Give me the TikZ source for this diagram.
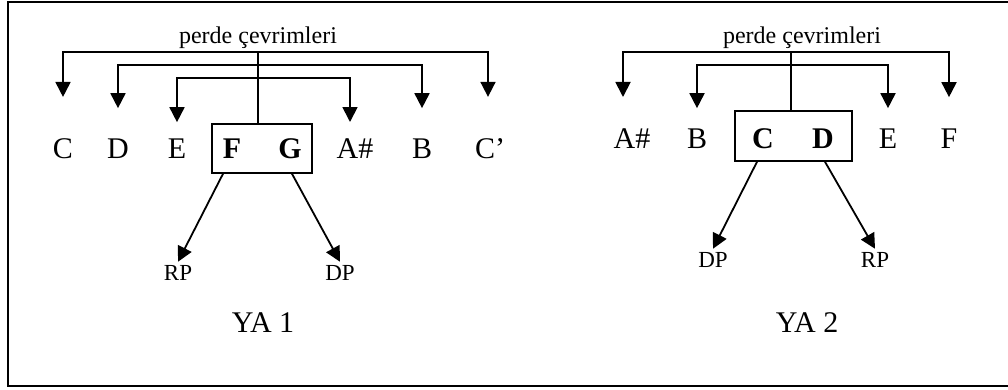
\documentclass[tikz,border=0pt]{standalone}
\usepackage{fontspec}
\setmainfont{Liberation Serif}
\usetikzlibrary{arrows.meta}

\tikzset{
  perde/.style={anchor=base, inner sep=0pt, font=\fontsize{30}{32}\selectfont},
  etiket/.style={anchor=base, inner sep=3pt, font=\fontsize{23}{25}\selectfont},
  baslik/.style={anchor=base, inner sep=0pt, font=\fontsize{24}{26}\selectfont},
  kutu/.style={draw, line width=1.6pt, minimum height=49pt, inner sep=0pt},
  ok/.style={line width=1.8pt, -{Triangle[width=15pt,length=15pt]}},
  cizgi/.style={line width=1.8pt}
}

\begin{document}
\begin{tikzpicture}[x=1pt, y=-1pt]

\useasboundingbox (0,0) rectangle (1008,389);
\draw[line width=2pt] (1008,1.5) -- (8,1.5) -- (8,386) -- (1008,386);

% YA 1
\node[baslik] (pc1) at (258,43) {perde çevrimleri};

\node[perde] (c1)  at (63,158)  {C};
\node[perde] (d1)  at (118,158) {D};
\node[perde] (e1)  at (177,158) {E};
\node[perde] (f1)  at (232,158) {\textbf{F}};
\node[perde] (g1)  at (290,158) {\textbf{G}};
\node[perde] (a1)  at (355,158) {A\#};
\node[perde] (b1)  at (422,158) {B};
\node[perde] (cc1) at (490,158) {C’};

\node[kutu, minimum width=100pt] (box1) at (262,148.5) {};

\coordinate (s1) at (258,52);
\coordinate (s2) at (258,65);
\coordinate (s3) at (258,78);

\draw[cizgi] (s1) -- (s1 |- box1.north);
\draw[ok, shorten >=41pt] (s1) -| (c1);
\draw[ok, shorten >=41pt] (s1) -| ([xshift=-2pt]cc1.north);
\draw[ok, shorten >=30pt] (s2) -| (d1);
\draw[ok, shorten >=30pt] (s2) -| (b1);
\draw[ok, shorten >=16pt] (s3) -| (e1);
\draw[ok, shorten >=16pt] (s3) -| ([xshift=-5pt]a1.north);

\node[etiket] (rp1) at (178,280) {RP};
\node[etiket] (dp1) at (340,280) {DP};

\draw[ok] ([xshift=-39pt]box1.south) -- (rp1.north);
\draw[ok] ([xshift=30pt]box1.south) -- (dp1.north);

\node[perde] (ya1) at (263,332) {YA 1};

% YA 2
\node[baslik] (pc2) at (802,43) {perde çevrimleri};

\node[perde] (a2) at (632,148) {A\#};
\node[perde] (b2) at (697,148) {B};
\node[perde] (c2) at (763,148) {\textbf{C}};
\node[perde] (d2) at (823,148) {\textbf{D}};
\node[perde] (e2) at (888,148) {E};
\node[perde] (f2) at (949,148) {F};

\node[kutu, minimum width=117pt, minimum height=50pt] (box2) at (793.5,136) {};

\coordinate (t1) at (791,52);
\coordinate (t2) at (791,65);

\draw[cizgi] (t1) -- (t1 |- box2.north);
\draw[ok, shorten >=31pt] (t1) -| ([xshift=-9pt]a2.north);
\draw[ok, shorten >=31pt] (t1) -| (f2);
\draw[ok, shorten >=20pt] (t2) -| (b2);
\draw[ok, shorten >=20pt] (t2) -| (e2);

\node[etiket] (dp2) at (713,267) {DP};
\node[etiket] (rp2) at (875,267) {RP};

\draw[ok] ([xshift=-36.5pt]box2.south) -- (dp2.north);
\draw[ok] ([xshift=31.5pt]box2.south) -- (rp2.north);

\node[perde] (ya2) at (807,332) {YA 2};

\end{tikzpicture}
\end{document}
